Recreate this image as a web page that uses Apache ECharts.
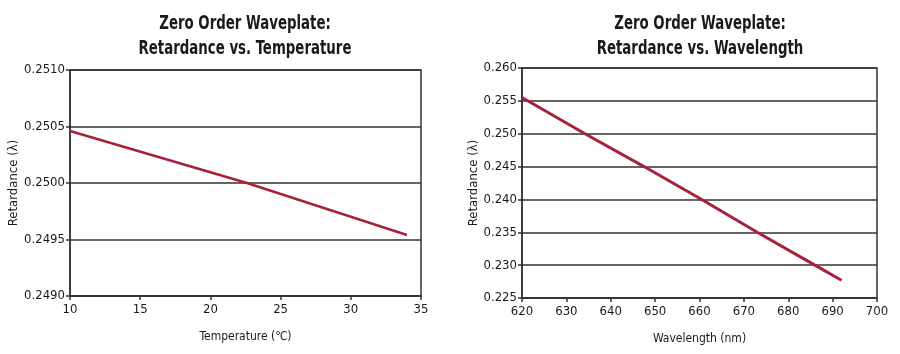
<!DOCTYPE html>
<html>
<head>
<meta charset="utf-8">
<script src="https://cdn.jsdelivr.net/npm/echarts@6/dist/echarts.min.js"></script>
<style>
  html, body { margin: 0; padding: 0; background: #fff; }
  #main { width: 900px; height: 354px; }
</style>
</head>
<body>
<div id="main"></div>
<script>
// 温度图数据 [温度, 延迟量]
var tempData = [[10, 0.25046], [22.6, 0.2500], [34, 0.24954]];
// 波长图数据 [波长, 延迟量]
var waveData = [[620, 0.2555], [634.2, 0.2500], [647.5, 0.2450], [660.5, 0.2400], [673, 0.2350], [686, 0.2300], [692, 0.2277]];
// 标题
var titles = ['Zero Order Waveplate:\nRetardance vs. Temperature', 'Zero Order Waveplate:\nRetardance vs. Wavelength'];

var font = '"DejaVu Sans Condensed", "Liberation Sans Narrow", sans-serif';
var lineColor = '#a8213a';
var axisColor = '#333';
var textColor = '#1a1a1a';

function xAxisCfg(idx, name, min, max, step) {
  return {
    gridIndex: idx, type: 'value', min: min, max: max, interval: step,
    name: name, nameLocation: 'middle', nameGap: 35,
    nameTextStyle: { fontFamily: font, fontSize: 12, color: textColor },
    axisLine: { lineStyle: { color: axisColor, width: 1.5 } },
    axisTick: { show: true, length: 4, lineStyle: { color: axisColor, width: 1.5 } },
    axisLabel: { fontFamily: font, fontSize: 13, color: textColor, margin: 7 },
    splitLine: { show: false }
  };
}
function yAxisCfg(idx, min, max, step, digits) {
  return {
    gridIndex: idx, type: 'value', min: min, max: max, interval: step,
    name: 'Retardance (λ)', nameLocation: 'middle', nameGap: 42, nameRotate: 90,
    nameTextStyle: { fontFamily: font, fontSize: 13, color: textColor },
    axisLine: { lineStyle: { color: axisColor, width: 1.5 } },
    axisTick: { show: true, length: 4, lineStyle: { color: axisColor, width: 1.5 } },
    axisLabel: { fontFamily: font, fontSize: 13, color: textColor, margin: 5,
      formatter: function (v) { return v.toFixed(digits); } },
    splitLine: { show: true, lineStyle: { color: axisColor, width: 1.5 } }
  };
}

function titleText(cx, text) {
  return {
    type: 'text', x: cx, y: 12, scaleX: 0.78,
    style: { text: text, align: 'center', verticalAlign: 'top', fill: textColor,
      font: 'bold 19px ' + font, lineHeight: 25 }
  };
}

var option = {
  animation: false,
  graphic: [titleText(245, titles[0]), titleText(700, titles[1])],
  grid: [
    { left: 70, top: 70, width: 351, height: 226, show: true, borderColor: axisColor, borderWidth: 1.5 },
    { left: 522, top: 68, width: 355, height: 230, show: true, borderColor: axisColor, borderWidth: 1.5 }
  ],
  xAxis: [
    xAxisCfg(0, 'Temperature (℃)', 10, 35, 5),
    xAxisCfg(1, 'Wavelength (nm)', 620, 700, 10)
  ],
  yAxis: [
    yAxisCfg(0, 0.2490, 0.2510, 0.0005, 4),
    yAxisCfg(1, 0.225, 0.260, 0.005, 3)
  ],
  series: [
    { type: 'line', xAxisIndex: 0, yAxisIndex: 0, data: tempData, showSymbol: false,
      lineStyle: { color: lineColor, width: 2.5 } },
    { type: 'line', xAxisIndex: 1, yAxisIndex: 1, data: waveData, showSymbol: false,
      lineStyle: { color: lineColor, width: 3 } }
  ]
};

var myChart = echarts.init(document.getElementById('main'));
myChart.setOption(option);
</script>
</body>
</html>
